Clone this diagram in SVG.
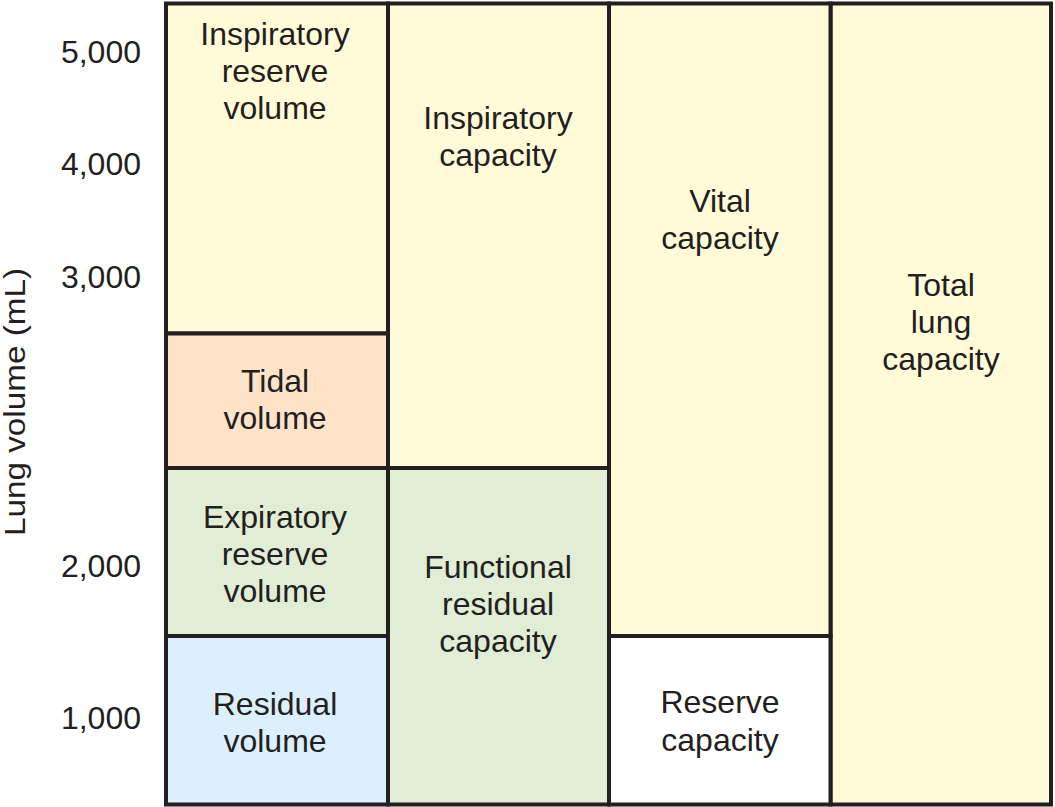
<svg xmlns="http://www.w3.org/2000/svg" width="1055" height="807" viewBox="0 0 1055 807">
<style>
.box{stroke:#231f20;stroke-width:4}
.y{fill:#fffbd8}
.p{fill:#fee3c9}
.g{fill:#e1edd5}
.b{fill:#dbeffc}
.w{fill:#ffffff}
text{font-family:"Liberation Sans",Arial,sans-serif;font-size:32px;fill:#231f20}
.c{text-anchor:middle}
.t{text-anchor:end}
</style>
<rect width="1055" height="807" fill="#ffffff"/>
<g id="axis">
<text transform="translate(25,402) rotate(-90)" class="c" font-size="30" textLength="268" lengthAdjust="spacingAndGlyphs" style="font-size:30px">Lung volume (mL)</text>
<text class="t" x="141" y="63">5,000</text>
<text class="t" x="141" y="175">4,000</text>
<text class="t" x="141" y="288">3,000</text>
<text class="t" x="141" y="577">2,000</text>
<text class="t" x="141" y="729">1,000</text>
</g>
<g id="total-lung-capacity">
<rect class="box y" x="830.5" y="3.5" width="220.5" height="801"/>
<text class="c" x="941" y="296">Total</text>
<text class="c" x="941" y="333">lung</text>
<text class="c" x="941" y="370">capacity</text>
</g>
<g id="vital-capacity">
<rect class="box y" x="609" y="3.5" width="221.5" height="632.5"/>
<text class="c" x="720" y="212">Vital</text>
<text class="c" x="720" y="249">capacity</text>
</g>
<g id="reserve-capacity">
<rect class="box w" x="609" y="636" width="221.5" height="168.5"/>
<text class="c" x="720" y="713">Reserve</text>
<text class="c" x="720" y="751">capacity</text>
</g>
<g id="inspiratory-capacity">
<rect class="box y" x="388" y="3.5" width="221" height="464.5"/>
<text class="c" x="498" y="129">Inspiratory</text>
<text class="c" x="498" y="166">capacity</text>
</g>
<g id="functional-residual-capacity">
<rect class="box g" x="388" y="468" width="221" height="336.5"/>
<text class="c" x="498" y="578">Functional</text>
<text class="c" x="498" y="615">residual</text>
<text class="c" x="498" y="652">capacity</text>
</g>
<g id="inspiratory-reserve-volume">
<rect class="box y" x="166" y="3.5" width="222" height="330"/>
<text class="c" x="275" y="45">Inspiratory</text>
<text class="c" x="275" y="82">reserve</text>
<text class="c" x="275" y="119">volume</text>
</g>
<g id="tidal-volume">
<rect class="box p" x="166" y="333.5" width="222" height="134.5"/>
<text class="c" x="275" y="392">Tidal</text>
<text class="c" x="275" y="429">volume</text>
</g>
<g id="expiratory-reserve-volume">
<rect class="box g" x="166" y="468" width="222" height="168"/>
<text class="c" x="275" y="528">Expiratory</text>
<text class="c" x="275" y="565">reserve</text>
<text class="c" x="275" y="602">volume</text>
</g>
<g id="residual-volume">
<rect class="box b" x="166" y="636" width="222" height="168.5"/>
<text class="c" x="275" y="715">Residual</text>
<text class="c" x="275" y="752">volume</text>
</g>
</svg>
